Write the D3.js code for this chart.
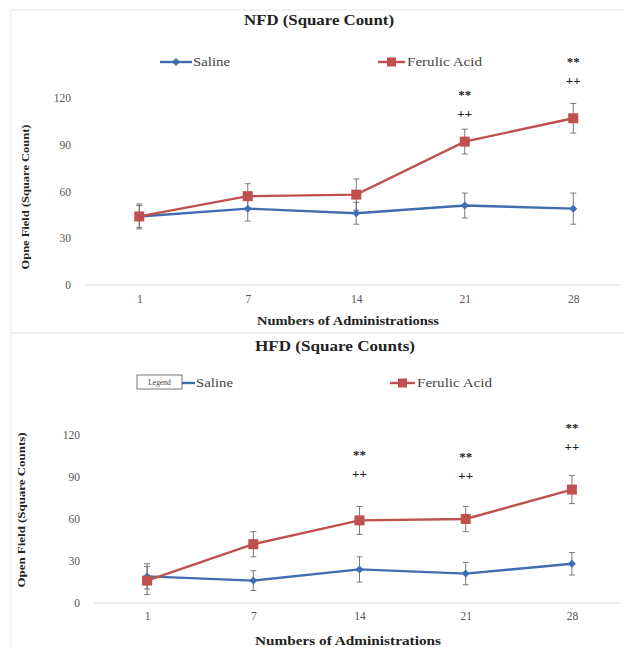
<!DOCTYPE html>
<html><head><meta charset="utf-8">
<script src="https://cdn.jsdelivr.net/npm/d3@7/dist/d3.min.js"></script>
<style>body{margin:0;background:#fff}svg{display:block}svg text{font-family:"Liberation Serif","DejaVu Serif",serif !important}</style>
</head><body>
<script>
const categories = ["1","7","14","21","28"];
const yTicks = [0,30,60,90,120];
const seriesNames = ["Saline","Ferulic Acid"];
// NFD
const nfdSaline = [44,49,46,51,49];
const nfdSalineErr = [8,8,7,8,10];
const nfdFerulic = [44,57,58,92,107];
const nfdFerulicErr = [7,8,10,8,9.5];
const nfdSig = ["","","","**|++","**|++"];
// HFD
const hfdSaline = [19,16,24,21,28];
const hfdSalineErr = [9,7,9,8,8];
const hfdFerulic = [16,42,59,60,81];
const hfdFerulicErr = [10,9,10,9,10];
const hfdSig = ["","","**|++","**|++","**|++"];

const W=624,H=647;
const svg=d3.select("body").append("svg").attr("width",W).attr("height",H);
const blue="#3f6db0", red="#c0504d";

function txt(g,x,y,s,size,opt={}){
  const t=g.append("text").attr("x",x).attr("y",y).attr("font-size",size).attr("fill",opt.fill||"#333")
    .attr("text-anchor",opt.anchor||"start").text(s);
  if(opt.bold) t.attr("font-weight","bold");
  if(opt.len) t.attr("textLength",opt.len).attr("lengthAdjust","spacingAndGlyphs");
  if(opt.rot) t.attr("transform",`rotate(-90,${x},${y})`);
  return t;
}

function panel(o){
  const g=svg.append("g");
  g.append("rect").attr("x",o.fx).attr("y",o.fy).attr("width",o.fw).attr("height",o.fh)
    .attr("fill","#fff").attr("stroke","#e6e6e6");
  const x=d3.scalePoint().domain(categories).range([o.x0,o.x1]).padding(0.5);
  const y=d3.scaleLinear().domain([0,120]).range([o.y0,o.y1]);
  g.append("line").attr("x1",o.x0).attr("x2",o.bx2).attr("y1",y(0)).attr("y2",y(0)).attr("stroke","#d9d9d9");
  const ya=g.append("g").attr("transform",`translate(${o.yl},0)`)
    .call(d3.axisLeft(y).tickValues(yTicks).tickSize(0).tickPadding(0));
  ya.select(".domain").remove();
  ya.selectAll("text").attr("font-size",11.5).attr("fill","#555");
  const xa=g.append("g").attr("transform",`translate(0,${o.xly})`)
    .call(d3.axisBottom(x).tickSize(0).tickPadding(0));
  xa.select(".domain").remove();
  xa.selectAll("text").attr("font-size",11.5).attr("fill","#555");
  txt(g,o.tx,o.ty,o.title,15,{bold:true,anchor:"middle",fill:"#222",len:o.tlen});
  txt(g,o.xtx,o.xty,o.xtitle,12,{bold:true,anchor:"middle",fill:"#222",len:o.xlen});
  txt(g,o.ytx,o.yty,o.ytitle,11,{bold:true,anchor:"middle",fill:"#222",len:o.ylen,rot:true});
  const series=[{v:o.s,e:o.se,c:blue,m:"d"},{v:o.f,e:o.fe,c:red,m:"s"}];
  const line=d3.line().x((d,i)=>x(categories[i])).y(d=>y(d));
  series.forEach(s=>{
    s.v.forEach((v,i)=>{
      const cx=x(categories[i]);
      g.append("line").attr("x1",cx).attr("x2",cx).attr("y1",y(v+s.e[i])).attr("y2",y(v-s.e[i])).attr("stroke","#6b6b6b").attr("stroke-width",0.9);
      [v+s.e[i],v-s.e[i]].forEach(t=>g.append("line").attr("x1",cx-3).attr("x2",cx+3).attr("y1",y(t)).attr("y2",y(t)).attr("stroke","#6b6b6b").attr("stroke-width",0.9));
    });
  });
  series.forEach(s=>{
    g.append("path").datum(s.v).attr("d",line).attr("fill","none").attr("stroke",s.c).attr("stroke-width",2.4);
    s.v.forEach((v,i)=>{
      const cx=x(categories[i]),cy=y(v);
      if(s.m==="s") g.append("rect").attr("x",cx-5).attr("y",cy-5).attr("width",10).attr("height",10).attr("fill",s.c);
      else g.append("path").attr("d",`M${cx},${cy-4}L${cx+4},${cy}L${cx},${cy+4}L${cx-4},${cy}Z`).attr("fill",s.c);
    });
  });
  o.sig.forEach((s,i)=>{
    if(!s) return;
    const [a,b]=s.split("|");
    const cx=x(categories[i]);
    txt(g,cx,o.sigY[i]+6,a,13,{bold:true,anchor:"middle",fill:"#222"});
    txt(g,cx,o.sigY[i]+25,b,13,{bold:true,anchor:"middle",fill:"#222"});
  });
  const L=o.leg;
  g.append("line").attr("x1",L.s0).attr("x2",L.s1).attr("y1",L.y).attr("y2",L.y).attr("stroke",blue).attr("stroke-width",2.4);
  const sm=(L.s0+L.s1)/2;
  if(o.legendBox){
    g.append("rect").attr("x",L.bx).attr("y",L.y-8).attr("width",L.s0-L.bx).attr("height",14).attr("fill","#fff").attr("stroke","#555").attr("stroke-width",0.8);
    txt(g,(L.bx+L.s0)/2,L.y+2,"Legend",7.5,{anchor:"middle",fill:"#444"});
  } else {
    g.append("path").attr("d",`M${sm},${L.y-4}L${sm+4},${L.y}L${sm},${L.y+4}L${sm-4},${L.y}Z`).attr("fill",blue);
  }
  txt(g,L.s1+1,L.y+4,seriesNames[0],13,{len:37,fill:"#444"});
  g.append("line").attr("x1",L.f0).attr("x2",L.f1).attr("y1",L.y).attr("y2",L.y).attr("stroke",red).attr("stroke-width",2.4);
  const fm=(L.f0+L.f1)/2;
  g.append("rect").attr("x",fm-4.5).attr("y",L.y-4.5).attr("width",9).attr("height",9).attr("fill",red);
  txt(g,L.f1+2,L.y+4,seriesNames[1],13,{len:75,fill:"#444"});
}

panel({fx:11,fy:10,fw:620,fh:323,x0:85,x1:627.5,bx2:620,y0:285,y1:98,yl:71,xly:295,
  title:"NFD (Square Count)",tx:319,ty:25,tlen:150,xtitle:"Numbers of Administrationss",xtx:348,xty:325,xlen:182,
  ytitle:"Opne Field (Square Count)",ytx:29,yty:197,ylen:145,
  s:nfdSaline,se:nfdSalineErr,f:nfdFerulic,fe:nfdFerulicErr,sig:nfdSig,sigY:[0,0,0,93,60],
  leg:{y:62,s0:160,s1:192,f0:378,f1:405}});
panel({fx:11,fy:333,fw:620,fh:320,x0:94,x1:625,bx2:620,y0:603,y1:435,yl:80,xly:612,
  title:"HFD (Square Counts)",tx:335,ty:351,tlen:160,xtitle:"Numbers of Administrations",xtx:348,xty:645,xlen:186,
  ytitle:"Open  Field  (Square Counts)",ytx:25,yty:510,ylen:155,
  s:hfdSaline,se:hfdSalineErr,f:hfdFerulic,fe:hfdFerulicErr,sig:hfdSig,sigY:[0,0,453,455,426],
  leg:{y:383,bx:137,s0:182,s1:195,f0:390,f1:415},legendBox:true});
</script>
</body></html>
